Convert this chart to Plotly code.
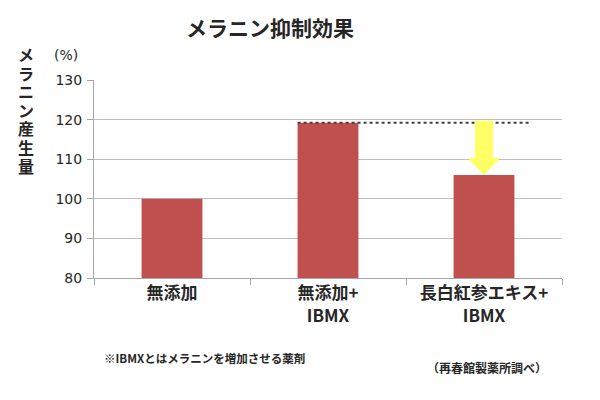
import plotly.graph_objects as go

categories = ["無添加", "無添加+<br>IBMX", "長白紅参エキス+<br>IBMX"]
values = [100, 119.2, 106]
y_ticks = [80, 90, 100, 110, 120, 130]

title_text = "メラニン抑制効果"
y_title = "メラニン産生量"
unit_text = "(%)"
note_left = "※IBMXとはメラニンを増加させる薬剤"
note_right = "（再春館製薬所調べ）"

JP = "Noto Sans CJK JP"
BAR = "#C0504D"
GRID = "#BFBFBF"

# page has an 8px body margin: work in window pixels and subtract it
OFF = 8
W, H = 600 - OFF, 400 - OFF
L, T = 94 - OFF, 80 - OFF
R = W - (562 - OFF)
B = H - (278 - OFF)
pw, ph = W - L - R, H - T - B

def px_x(p):
    return (p - OFF - L) / pw

def px_y(p):
    return (H - B - (p - OFF)) / ph

fig = go.Figure()
fig.add_trace(go.Bar(
    x=categories, y=values, width=0.39,
    marker=dict(color=BAR, line=dict(width=0)),
    hoverinfo="skip",
))

ref = values[1]
fig.add_shape(type="line", xref="x", yref="y",
              x0=1 - 0.195, x1=2.30, y0=ref, y1=ref,
              line=dict(color="#404040", width=2, dash="dot"), layer="above")

sx, hw, hh = 0.058, 0.106, 4.3
top, tip = ref + 0.5, values[2]
path = (f"M {2-sx},{top} L {2+sx},{top} L {2+sx},{tip+hh} L {2+hw},{tip+hh} "
        f"L 2,{tip} L {2-hw},{tip+hh} L {2-sx},{tip+hh} Z")
fig.add_shape(type="path", xref="x", yref="y", path=path,
              fillcolor="#FFFF66", line=dict(width=0), layer="above")

ann = []
ann.append(dict(text=f"<b>{title_text}</b>", x=px_x(270), y=px_y(27), xref="paper", yref="paper",
                showarrow=False, xanchor="center", yanchor="middle",
                font=dict(family=JP, size=21, color="#262626")))
for i, ch in enumerate(y_title):
    ann.append(dict(text=f"<b>{ch}</b>", x=px_x(26), y=px_y(54 + i * 18.6),
                    xref="paper", yref="paper", showarrow=False, xanchor="center", yanchor="middle",
                    height=18, valign="middle",
                    font=dict(family=JP, size=16, color="#262626")))
ann.append(dict(text=unit_text, x=px_x(66), y=px_y(55), xref="paper", yref="paper",
                showarrow=False, xanchor="center", yanchor="middle",
                font=dict(family="DejaVu Sans", size=14, color="#262626")))
ann.append(dict(text=f"<b>{note_left}</b>", x=px_x(102), y=px_y(358), xref="paper", yref="paper",
                showarrow=False, xanchor="left", yanchor="middle",
                font=dict(family=JP, size=11.5, color="#262626")))
ann.append(dict(text=f"<b>{note_right}</b>", x=px_x(487), y=px_y(367), xref="paper", yref="paper",
                showarrow=False, xanchor="center", yanchor="middle",
                font=dict(family=JP, size=12, color="#262626")))

fig.update_layout(
    width=W, height=H,
    margin=dict(l=L, r=R, t=T, b=B, autoexpand=False),
    paper_bgcolor="white", plot_bgcolor="white",
    showlegend=False,
    annotations=ann,
    xaxis=dict(
        type="category", tickson="boundaries", ticks="outside", ticklen=6,
        tickcolor="#A6A6A6", tickwidth=1, showline=True, linecolor="#A6A6A6", linewidth=1,
        showgrid=False, range=[-0.5, 2.5],
        tickfont=dict(family=JP, size=17, color="#262626"),
    ),
    yaxis=dict(
        range=[80, 130], tickvals=y_ticks, ticks="outside", ticklen=6,
        tickcolor="#A6A6A6", showline=True, linecolor="#A6A6A6", linewidth=1,
        showgrid=True, gridcolor=GRID, gridwidth=1, zeroline=False,
        tickfont=dict(family="DejaVu Sans", size=14, color="#262626"),
        ticklabelstandoff=2,
    ),
)
fig.update_xaxes(ticktext=[f"<b>{c}</b>" for c in categories], tickvals=categories)

fig.write_html("out.html")
